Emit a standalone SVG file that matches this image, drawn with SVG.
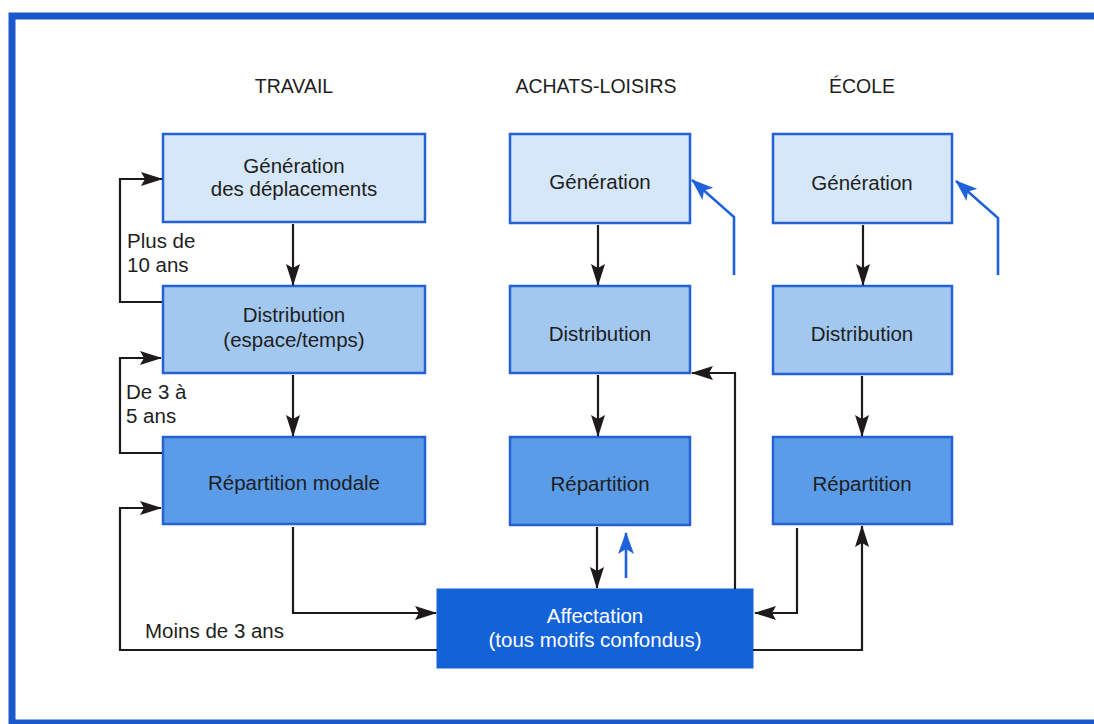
<svg xmlns="http://www.w3.org/2000/svg" width="1094" height="724" viewBox="0 0 1094 724">
<defs>
<style>
text{font-family:"Liberation Sans",Arial,sans-serif;font-size:20.5px;fill:#1e1e1e}
.h{font-size:19.5px;text-anchor:middle}
.c{text-anchor:middle}
.w{fill:#ffffff}
.b{stroke:#2462d4;stroke-width:2.5}
.l1{fill:#d5e7f8}
.l2{fill:#a2c8f0}
.l3{fill:#5b9ce8}
.l4{fill:#1462d8;stroke:#1462d8}
.k{fill:none;stroke:#1e1a1c;stroke-width:2.2}
.bl{fill:none;stroke:#1f63da;stroke-width:2.6}
</style>
<marker id="ka" markerWidth="22" markerHeight="14" refX="21" refY="7" orient="auto" markerUnits="userSpaceOnUse">
<path d="M0,0 L22,7 L0,14 L4,7 Z" fill="#1e1a1c"/>
</marker>
<marker id="ba" markerWidth="22" markerHeight="16" refX="21" refY="8" orient="auto" markerUnits="userSpaceOnUse">
<path d="M0,0 L22,8 L0,16 L5,8 Z" fill="#1f63da"/>
</marker>
</defs>
<rect x="0" y="0" width="1094" height="724" fill="#ffffff"/>
<path d="M1100,16 H12 V723 H1100" fill="none" stroke="#1a58cc" stroke-width="7"/>

<g id="headers">
<text class="h" x="294" y="93">TRAVAIL</text>
<text class="h" x="596" y="93">ACHATS-LOISIRS</text>
<text class="h" x="862" y="93">ÉCOLE</text>
</g>

<g id="t-gen"><rect class="b l1" x="163" y="134" width="262" height="88"/>
<text class="c" x="294" y="173">Génération</text><text class="c" x="294" y="196">des déplacements</text></g>
<g id="t-dist"><rect class="b l2" x="163" y="286" width="262" height="87"/>
<text class="c" x="294" y="322">Distribution</text><text class="c" x="294" y="347">(espace/temps)</text></g>
<g id="t-rep"><rect class="b l3" x="163" y="437" width="262" height="87"/>
<text class="c" x="294" y="490">Répartition modale</text></g>

<g id="a-gen"><rect class="b l1" x="510" y="134" width="180" height="89"/>
<text class="c" x="600" y="189">Génération</text></g>
<g id="a-dist"><rect class="b l2" x="510" y="286" width="180" height="87"/>
<text class="c" x="600" y="341">Distribution</text></g>
<g id="a-rep"><rect class="b l3" x="510" y="437" width="180" height="88"/>
<text class="c" x="600" y="491">Répartition</text></g>

<g id="e-gen"><rect class="b l1" x="773" y="134" width="179" height="89"/>
<text class="c" x="862" y="190">Génération</text></g>
<g id="e-dist"><rect class="b l2" x="773" y="286" width="179" height="88"/>
<text class="c" x="862" y="341">Distribution</text></g>
<g id="e-rep"><rect class="b l3" x="773" y="437" width="179" height="87"/>
<text class="c" x="862" y="491">Répartition</text></g>

<g id="affectation"><rect class="l4" x="437" y="589" width="316" height="79"/>
<text class="c w" x="595" y="623">Affectation</text><text class="c w" x="595" y="647">(tous motifs confondus)</text></g>

<g id="labels">
<text x="127" y="248">Plus de</text>
<text x="127" y="272">10 ans</text>
<text x="126" y="399">De 3 à</text>
<text x="126" y="423">5 ans</text>
<text x="145" y="638">Moins de 3 ans</text>
</g>

<g id="connectors">
<path class="k" d="M293,224 V285" marker-end="url(#ka)"/>
<path class="k" d="M293,375 V436" marker-end="url(#ka)"/>
<path class="k" d="M162,302 H120 V179 H162" marker-end="url(#ka)"/>
<path class="k" d="M162,453 H120 V358 H161" marker-end="url(#ka)"/>
<path class="k" d="M437,650 H120 V508 H161" marker-end="url(#ka)"/>
<path class="k" d="M293,527 V613 H436" marker-end="url(#ka)"/>

<path class="k" d="M598,225 V285" marker-end="url(#ka)"/>
<path class="k" d="M598,375 V436" marker-end="url(#ka)"/>
<path class="k" d="M597,527 V588" marker-end="url(#ka)"/>
<path class="k" d="M735,589 V373 H692" marker-end="url(#ka)"/>

<path class="k" d="M863,225 V285" marker-end="url(#ka)"/>
<path class="k" d="M862,376 V436" marker-end="url(#ka)"/>
<path class="k" d="M797,528 V613 H755" marker-end="url(#ka)"/>
<path class="k" d="M753,650 H862 V526" marker-end="url(#ka)"/>

<path class="bl" d="M626,578 V533" marker-end="url(#ba)"/>
<path class="bl" d="M734,275 V217 L692,180" marker-end="url(#ba)"/>
<path class="bl" d="M998,275 V218 L956,181" marker-end="url(#ba)"/>
</g>
</svg>
